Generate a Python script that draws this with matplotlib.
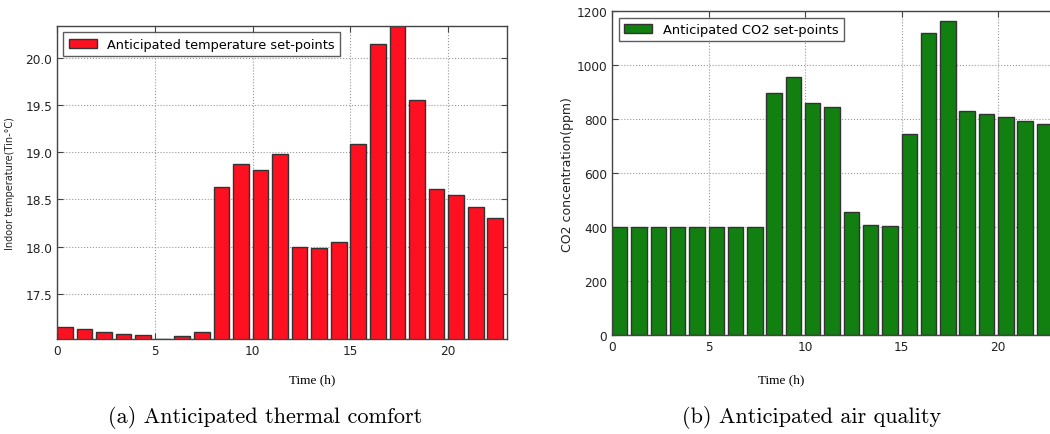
import numpy as np
import matplotlib
matplotlib.use("Agg")
import matplotlib.pyplot as plt

# hourly set-points
hours = np.arange(23)
temp_setpoints = [17.15, 17.13, 17.09, 17.07, 17.06, 17.02, 17.05, 17.09,
                  18.63, 18.88, 18.81, 18.98, 18.00, 17.98, 18.05, 19.09,
                  20.15, 20.34, 19.55, 18.61, 18.55, 18.42, 18.30]
co2_setpoints = [400, 400, 400, 400, 400, 400, 400, 400,
                 898, 955, 859, 847, 455, 407, 403, 744,
                 1121, 1163, 831, 820, 807, 795, 783]

temp_label = "Anticipated temperature set-points"
co2_label = "Anticipated CO2 set-points"
captions = ["(a) Anticipated thermal comfort", "(b) Anticipated air quality"]

plt.rcParams['font.family'] = 'DejaVu Sans'
fig = plt.figure(figsize=(10.5, 4.35), dpi=100)


def style_axes(ax):
    ax.grid(True, ls=':', color='#999999', lw=0.8)
    ax.set_axisbelow(True)
    ax.tick_params(direction='in', top=True, right=True, labelsize=8.7,
                   length=4, color='#444444', labelcolor='#222222')
    for s in ax.spines.values():
        s.set_color('#444444')
        s.set_linewidth(1.0)


## Left: temperature
ax1 = fig.add_axes([57/1050, 1-340/435, 450/1050, 313/435])
ax1.bar(hours, temp_setpoints, width=0.8, align='edge', color='#ff1020',
        edgecolor='#333333', linewidth=1.0, label=temp_label)
ax1.set_xlim(0, 23)
ax1.set_ylim(min(temp_setpoints), max(temp_setpoints))
ax1.set_xticks([0, 5, 10, 15, 20])
ax1.set_yticks([17.5, 18.0, 18.5, 19.0, 19.5, 20.0])
style_axes(ax1)
ax1.set_ylabel("Indoor temperature(Tin-°C)", fontsize=7, color='#222222')
ax1.yaxis.set_label_coords(-0.094, 0.5)
ax1.set_xlabel("Time (h)", fontsize=9.5, family='Liberation Serif')
ax1.xaxis.set_label_coords(0.567, -0.11)
leg1 = ax1.legend(loc='upper left', fontsize=9.3, fancybox=False,
                  handlelength=2.2, borderaxespad=0.5)
leg1.get_frame().set_edgecolor('#333333')
leg1.get_frame().set_linewidth(1.0)

## Right: CO2 (panel runs past the right edge of the figure)
ax2 = fig.add_axes([612/1050, 1-336/435, 444/1050, 323.7/435])
ax2.bar(hours, co2_setpoints, width=0.8, align='edge', color='#118011',
        edgecolor='#333333', linewidth=1.0, label=co2_label)
ax2.set_xlim(0, 23)
ax2.set_ylim(0, 1200)
ax2.set_xticks([0, 5, 10, 15, 20])
ax2.set_yticks(np.arange(0, 1201, 200))
style_axes(ax2)
ax2.set_ylabel("CO2 concentration(ppm)", fontsize=9, color='#222222')
ax2.yaxis.set_label_coords(-0.085, 0.5)
ax2.set_xlabel("Time (h)", fontsize=9.5, family='Liberation Serif')
ax2.xaxis.set_label_coords(0.382, -0.117)
leg2 = ax2.legend(loc='upper left', fontsize=9.4, fancybox=False,
                  handlelength=2.2, borderaxespad=0.5)
leg2.get_frame().set_edgecolor('#333333')
leg2.get_frame().set_linewidth(1.0)

## sub-figure captions
fig.text(265/1050, 1-418/435, captions[0], ha='center', va='center',
         fontsize=16, family='cmr10')
fig.text(812/1050, 1-418/435, captions[1], ha='center', va='center',
         fontsize=16, family='cmr10')

fig.savefig("out.png", dpi=100)
